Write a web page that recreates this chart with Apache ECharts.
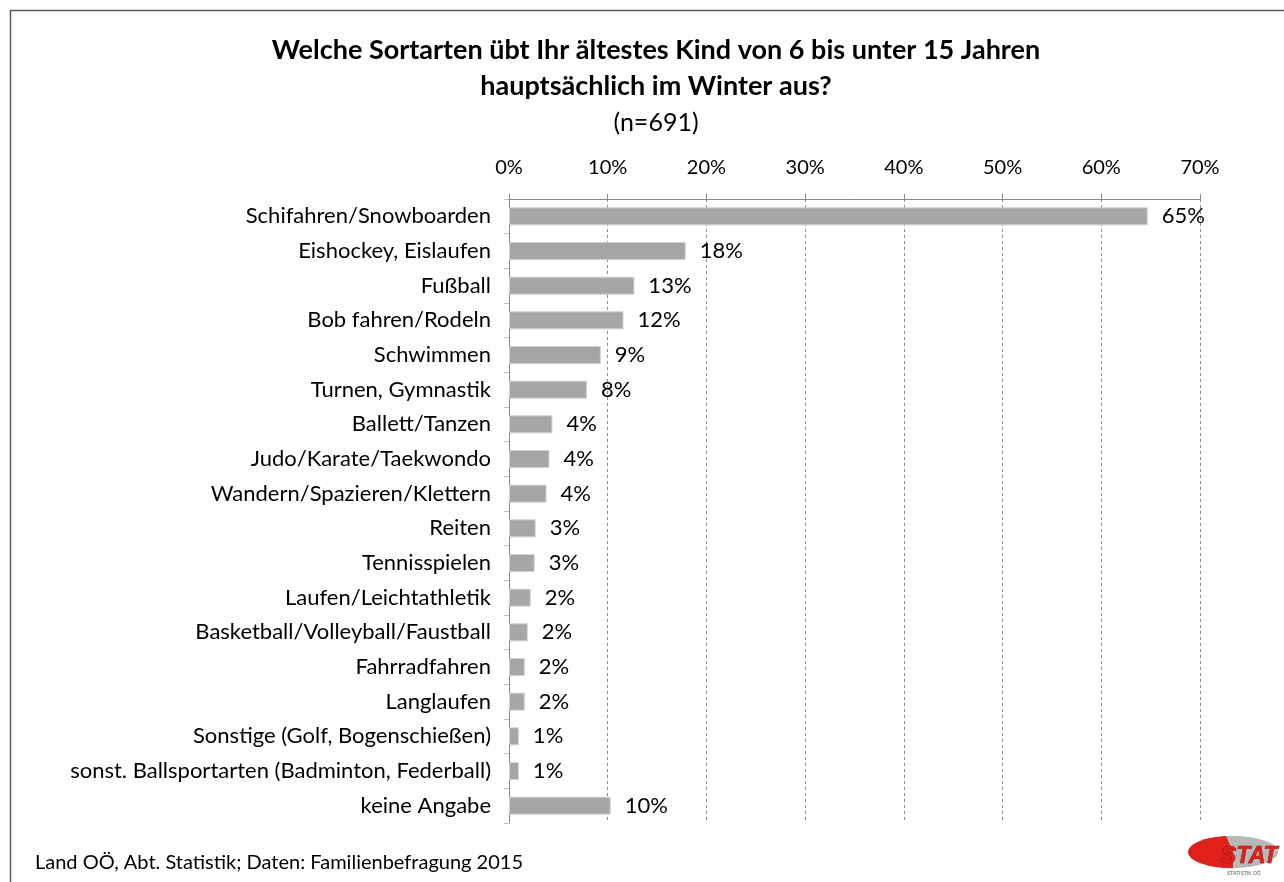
<!DOCTYPE html>
<html>
<head>
<meta charset="utf-8">
<script src="https://cdn.jsdelivr.net/npm/echarts@6/dist/echarts.min.js"></script>
<style>
  html, body { margin: 0; padding: 0; background: #fff; }
  #chart { width: 1284px; height: 882px; }
</style>
</head>
<body>
<div id="chart"></div>
<script>
const categories = [
  "Schifahren/Snowboarden",
  "Eishockey, Eislaufen",
  "Fußball",
  "Bob fahren/Rodeln",
  "Schwimmen",
  "Turnen, Gymnastik",
  "Ballett/Tanzen",
  "Judo/Karate/Taekwondo",
  "Wandern/Spazieren/Klettern",
  "Reiten",
  "Tennisspielen",
  "Laufen/Leichtathletik",
  "Basketball/Volleyball/Faustball",
  "Fahrradfahren",
  "Langlaufen",
  "Sonstige (Golf, Bogenschießen)",
  "sonst. Ballsportarten (Badminton, Federball)",
  "keine Angabe"
];
// Anteile in Prozent
const shares = [64.7, 17.9, 12.7, 11.6, 9.3, 7.9, 4.4, 4.1, 3.8, 2.7, 2.6, 2.2, 1.9, 1.6, 1.6, 1.0, 1.0, 10.3];
const tickValues = [0, 10, 20, 30, 40, 50, 60, 70];

const titleText = "Welche Sortarten übt Ihr ältestes Kind von 6 bis unter 15 Jahren\nhauptsächlich im Winter aus?";
const subText = "(n=691)";
const sourceText = "Land OÖ, Abt. Statistik; Daten: Familienbefragung 2015";

const font = "Lato, 'Open Sans', sans-serif";

const chart = echarts.init(document.getElementById("chart"));
const option = {
  animation: false,
  backgroundColor: "#ffffff",
  textStyle: { fontFamily: font, color: "#000" },
  title: [
    {
      text: titleText,
      left: 651,
      textAlign: "center",
      top: 27,
      textStyle: { fontSize: 27, fontWeight: "bold", lineHeight: 36, color: "#000", fontFamily: font }
    },
    {
      text: subText,
      left: 651,
      textAlign: "center",
      top: 105,
      textStyle: { fontSize: 25, fontWeight: "normal", color: "#000", fontFamily: font }
    },
    {
      text: sourceText,
      left: 30,
      top: 848,
      textStyle: { fontSize: 20, fontWeight: "normal", color: "#000", fontFamily: font }
    }
  ],
  grid: { left: 509, right: 84, top: 199, bottom: 59, containLabel: false },
  xAxis: {
    type: "value",
    position: "top",
    min: 0,
    max: 70,
    interval: 10,
    axisLine: { show: true, lineStyle: { color: "#868686", width: 1 } },
    axisTick: { show: true, length: 5, lineStyle: { color: "#868686" } },
    axisLabel: {
      margin: 21,
      fontSize: 20,
      color: "#000",
      fontFamily: font,
      formatter: v => tickValues.includes(v) ? v + "%" : ""
    },
    splitLine: { show: true, lineStyle: { type: [3, 3], color: "#8c8c8c", width: 1 } }
  },
  yAxis: {
    type: "category",
    inverse: true,
    data: categories,
    axisLine: { show: true, lineStyle: { color: "#868686", width: 1 } },
    axisTick: { show: true, length: 5, lineStyle: { color: "#bfbfbf" } },
    axisLabel: { fontSize: 22, color: "#000", margin: 18, fontFamily: font }
  },
  series: [
    {
      type: "bar",
      data: shares,
      barCategoryGap: "48%",
      itemStyle: { color: "#a6a6a6", borderColor: "#d0d0d0", borderWidth: 1 },
      label: {
        show: true,
        position: "right",
        distance: 14,
        fontSize: 22,
        color: "#000",
        fontFamily: font,
        formatter: p => Math.round(p.value) + "%"
      }
    }
  ],
  graphic: [
    {
      type: "rect",
      shape: { x: 10.5, y: 10.5, width: 1400, height: 1000 },
      style: { fill: null, stroke: "#595959", lineWidth: 1.5 },
      silent: true
    },
    {
      type: "group",
      left: 1188,
      top: 836,
      children: [
        { type: "ellipse", shape: { cx: 46, cy: 17, rx: 45, ry: 16 }, style: { fill: "#b8b8b8" } },
        { type: "sector", shape: { cx: 46, cy: 17, r: 45, r0: 0, startAngle: Math.PI * 0.5, endAngle: Math.PI * 1.45 }, scaleY: 0.36, originY: 17, style: { fill: "#e0201b" } },
        { type: "text", style: { x: 34, y: 10, text: "STAT", fill: "#e0201b", stroke: "#6a0000", lineWidth: 0.6, font: "italic bold 23px 'Liberation Sans', sans-serif" } },
        { type: "text", style: { x: 40, y: 36, text: "STATISTIK OÖ", fill: "#555", font: "5px 'Liberation Sans', sans-serif" } }
      ]
    }
  ]
};
chart.setOption(option);
</script>
</body>
</html>
